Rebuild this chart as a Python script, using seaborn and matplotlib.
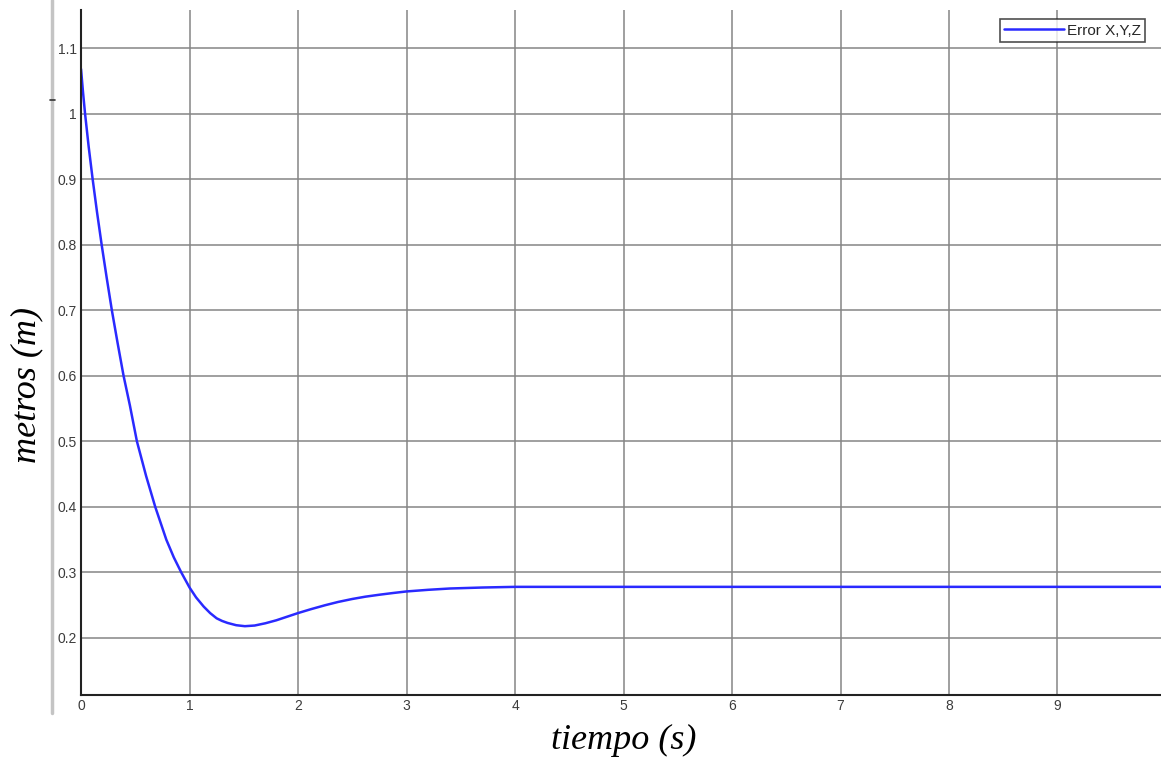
import matplotlib
matplotlib.use("Agg")
import matplotlib.pyplot as plt
from matplotlib.lines import Line2D
import seaborn as sns
import pandas as pd

# tiempo (s) and error values
tiempo = [0.0, 0.018, 0.037, 0.07, 0.107, 0.147, 0.19, 0.236, 0.284, 0.337,
          0.392, 0.45, 0.515, 0.6, 0.684, 0.786, 0.855, 0.924, 1.0,
          1.06, 1.13, 1.19, 1.25, 1.30, 1.35, 1.43, 1.51, 1.6, 1.7,
          1.8, 1.9, 2.0, 2.12, 2.25, 2.37, 2.5, 2.62, 2.75, 2.87,
          3.0, 3.2, 3.4, 3.7, 4.0, 4.5, 5.0, 6.0, 7.0, 8.0, 9.0, 10.0]
error_xyz = [1.068, 1.033, 1.0, 0.95, 0.9, 0.85, 0.8, 0.75, 0.7, 0.65,
             0.6, 0.555, 0.5, 0.447, 0.40, 0.35, 0.323, 0.30, 0.277,
             0.262, 0.248, 0.238, 0.230, 0.226, 0.223, 0.2195, 0.218, 0.219, 0.2225,
             0.227, 0.2325, 0.238, 0.244, 0.250, 0.255, 0.2595, 0.263, 0.266, 0.2685,
             0.271, 0.2735, 0.2755, 0.277, 0.278, 0.278, 0.278, 0.278, 0.278, 0.278, 0.278, 0.278]

df = pd.DataFrame({"tiempo": tiempo, "error": error_xyz})

sns.set_theme(style="white")
fig = plt.figure(figsize=(11.61, 7.59), dpi=100)
ax = fig.add_axes([0.0698, 0.0843, 0.9345, 0.9025])

sns.lineplot(data=df, x="tiempo", y="error", ax=ax, color="#2a2aff",
             linewidth=1.8, label="Error X,Y,Z")

ax.set_xlim(0, 10)
ax.set_ylim(0.113, 1.158)
ax.set_xticks(range(0, 11))
ax.set_xticklabels([str(i) for i in range(0, 10)] + [""])
ax.set_yticks([0.2, 0.3, 0.4, 0.5, 0.6, 0.7, 0.8, 0.9, 1.0, 1.1])
ax.set_yticklabels(["0.2", "0.3", "0.4", "0.5", "0.6", "0.7", "0.8", "0.9", "1", "1.1"])
ax.grid(True, color="#858585", linewidth=1.1)
ax.tick_params(direction="in", length=5, width=1.2, colors="#222222",
               labelcolor="#3c3c3c", labelsize=10, pad=3)
for lab in ax.get_xticklabels() + ax.get_yticklabels():
    lab.set_family("Liberation Sans")
ax.spines["top"].set_visible(False)
ax.spines["right"].set_visible(False)
ax.spines["left"].set_color("#222222")
ax.spines["bottom"].set_color("#222222")
ax.spines["left"].set_linewidth(1.5)
ax.spines["bottom"].set_linewidth(1.5)

ax.set_xlabel("tiempo (s)", family="Liberation Serif", style="italic",
              fontsize=26, labelpad=8, color="black")
ax.set_ylabel("metros (m)", family="Liberation Serif", style="italic",
              fontsize=26, color="black")
ax.yaxis.set_label_coords(-0.05, 0.453)
ax.yaxis.label.set_va("center")

leg = ax.legend(loc="upper right", bbox_to_anchor=(0.988, 0.998),
                prop={"family": "Liberation Sans", "size": 11},
                frameon=True, fancybox=False, edgecolor="#222222",
                handlelength=3.9, borderpad=0.3, handletextpad=0.2)
leg.get_frame().set_linewidth(1.2)

# gray border of the original figure window
fig.add_artist(Line2D([0.045, 0.045], [0.06, 1.0], color="#c4c4c4", linewidth=2.5))
fig.add_artist(Line2D([0.043, 0.047], [0.868, 0.868], color="#333333", linewidth=1.2))

fig.savefig("out.png", dpi=100)
